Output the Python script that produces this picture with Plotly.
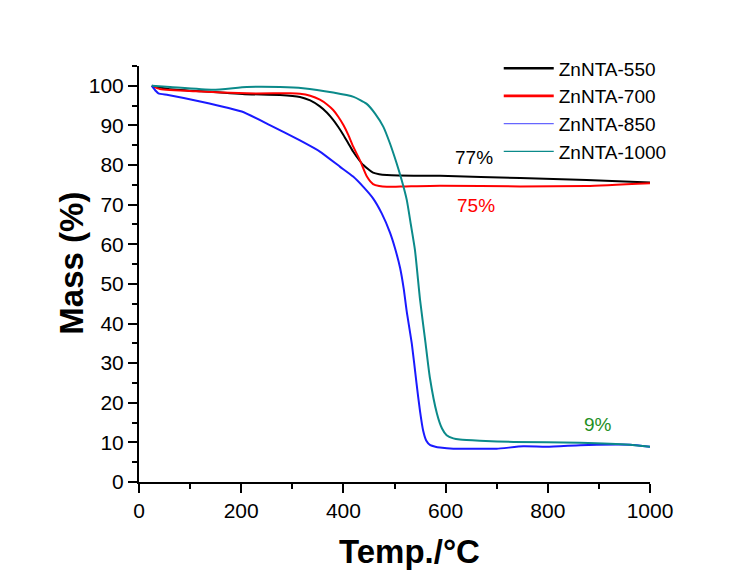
import plotly.graph_objects as go

# ---- data ----
t_550 = [25, 57, 122, 207, 276, 315, 335, 354, 368, 380, 390, 400, 410, 419, 430, 439, 450, 458, 470, 485, 550, 589, 746, 876, 1000]
m_550 = [100, 99.2, 98.6, 97.9, 97.7, 97.2, 96.3, 94.8, 93.2, 91.4, 89.6, 87.6, 85.4, 83.4, 81.4, 80.0, 78.8, 78.1, 77.7, 77.5, 77.3, 77.3, 76.7, 76.2, 75.6]

t_700 = [25, 41, 113, 211, 296, 315, 335, 354, 368, 380, 390, 400, 410, 419, 432, 446, 458, 470, 485, 520, 589, 746, 876, 1000]
m_700 = [100, 99.2, 98.6, 98.1, 98.1, 98.0, 97.5, 96.5, 95.3, 93.9, 92.2, 90.1, 87.5, 84.7, 81.3, 77.1, 75.2, 74.7, 74.5, 74.6, 74.8, 74.6, 74.7, 75.4]

t_850 = [25, 33, 38, 57, 122, 201, 256, 315, 354, 393, 419, 439, 458, 475, 491, 501, 511, 518, 524, 534, 543, 550, 556, 562, 570, 580, 589, 615, 667, 700, 752, 798, 863, 896, 961, 1000]
m_850 = [100, 98.7, 98.1, 97.7, 96.0, 93.5, 90.1, 86.2, 83.4, 79.6, 77.1, 74.5, 71.6, 67.8, 63.0, 59.0, 54.0, 48.8, 43.0, 34.8, 25.0, 17.8, 13.0, 10.5, 9.3, 8.9, 8.7, 8.4, 8.4, 8.4, 9.0, 8.9, 9.3, 9.4, 9.4, 8.9]

t_1000 = [25, 61, 145, 211, 276, 321, 380, 420, 445, 462, 478, 491, 504, 514, 524, 532, 540, 550, 560, 569, 583, 593, 602, 615, 628, 667, 733, 863, 961, 1000]
m_1000 = [100, 99.7, 99.0, 99.7, 99.7, 99.4, 98.3, 97.2, 95.5, 93.0, 89.7, 85.5, 80.5, 76.2, 71.2, 65.0, 58.6, 46.0, 35.8, 26.5, 17.3, 13.5, 11.8, 11.0, 10.7, 10.4, 10.1, 9.9, 9.4, 8.9]

names = ["ZnNTA-550", "ZnNTA-700", "ZnNTA-850", "ZnNTA-1000"]
x_ticks = [0, 200, 400, 600, 800, 1000]
y_ticks = [0, 10, 20, 30, 40, 50, 60, 70, 80, 90, 100]

labels = ["77%", "75%", "9%"]
label_x = [656, 659, 899]
label_y = [81.8, 69.7, 14.6]

colors = ["#000000", "#ff0000", "#1a1aff", "#0b8a8a"]
label_colors = ["#000000", "#ff0000", "#1f8f1f"]

FONT = "Arial, Liberation Sans, sans-serif"

series = [(t_550, m_550), (t_700, m_700), (t_850, m_850), (t_1000, m_1000)]
plot_widths = [2, 2, 2, 2]
legend_widths = [2.6, 2.6, 1.2, 1.2]
legend_colors = ["#000000", "#ff0000", "#6666ff", "#0b8a8a"]

fig = go.Figure()
for (t, m), c, w in zip(series, colors, plot_widths):
    fig.add_trace(go.Scatter(x=t, y=m, mode="lines", line=dict(color=c, width=w, shape="spline", smoothing=0.5),
                             showlegend=False, hoverinfo="skip"))
for n, c, w in zip(names, legend_colors, legend_widths):
    fig.add_trace(go.Scatter(x=[None], y=[None], mode="lines", name=n, line=dict(color=c, width=w)))

for txt, x, y, c in zip(labels, label_x, label_y, label_colors):
    fig.add_annotation(x=x, y=y, text=txt, showarrow=False, font=dict(family=FONT, size=19, color=c),
                       xanchor="center", yanchor="middle")

fig.add_annotation(xref="paper", yref="paper", x=0.530, y=-0.166, text="<b>Temp./°C</b>", showarrow=False,
                   font=dict(family=FONT, size=33, color="black"), xanchor="center", yanchor="middle")
fig.add_annotation(xref="paper", yref="paper", x=-0.131, y=0.525, text="<b>Mass (%)</b>", showarrow=False,
                   textangle=-90, font=dict(family=FONT, size=33, color="black"), xanchor="center", yanchor="middle")

axis_common = dict(showline=True, linecolor="black", linewidth=2, ticks="outside", ticklen=9, tickwidth=2,
                   tickcolor="black", showgrid=False, zeroline=False, mirror=False,
                   tickfont=dict(family=FONT, size=21, color="black"))

fig.update_xaxes(range=[0, 1000], tickvals=x_ticks, ticktext=[str(v) for v in x_ticks],
                 minor=dict(ticks="outside", ticklen=5, tickwidth=2, tickcolor="black", dtick=100, tick0=0, showgrid=False),
                 **axis_common)
fig.update_yaxes(range=[0, 105], tickvals=y_ticks, ticktext=[str(v) for v in y_ticks],
                 minor=dict(ticks="outside", ticklen=5, tickwidth=2, tickcolor="black", dtick=5, tick0=0, showgrid=False),
                 **axis_common)

fig.update_layout(
    width=741, height=570,
    margin=dict(l=131, r=99, t=58, b=96),
    paper_bgcolor="white", plot_bgcolor="white",
    legend=dict(x=0.704, y=1.040, xanchor="left", yanchor="top", font=dict(family=FONT, size=19, color="black"),
                bgcolor="rgba(0,0,0,0)", borderwidth=0, itemwidth=50, tracegroupgap=0),
)

fig.write_html("out.html")
